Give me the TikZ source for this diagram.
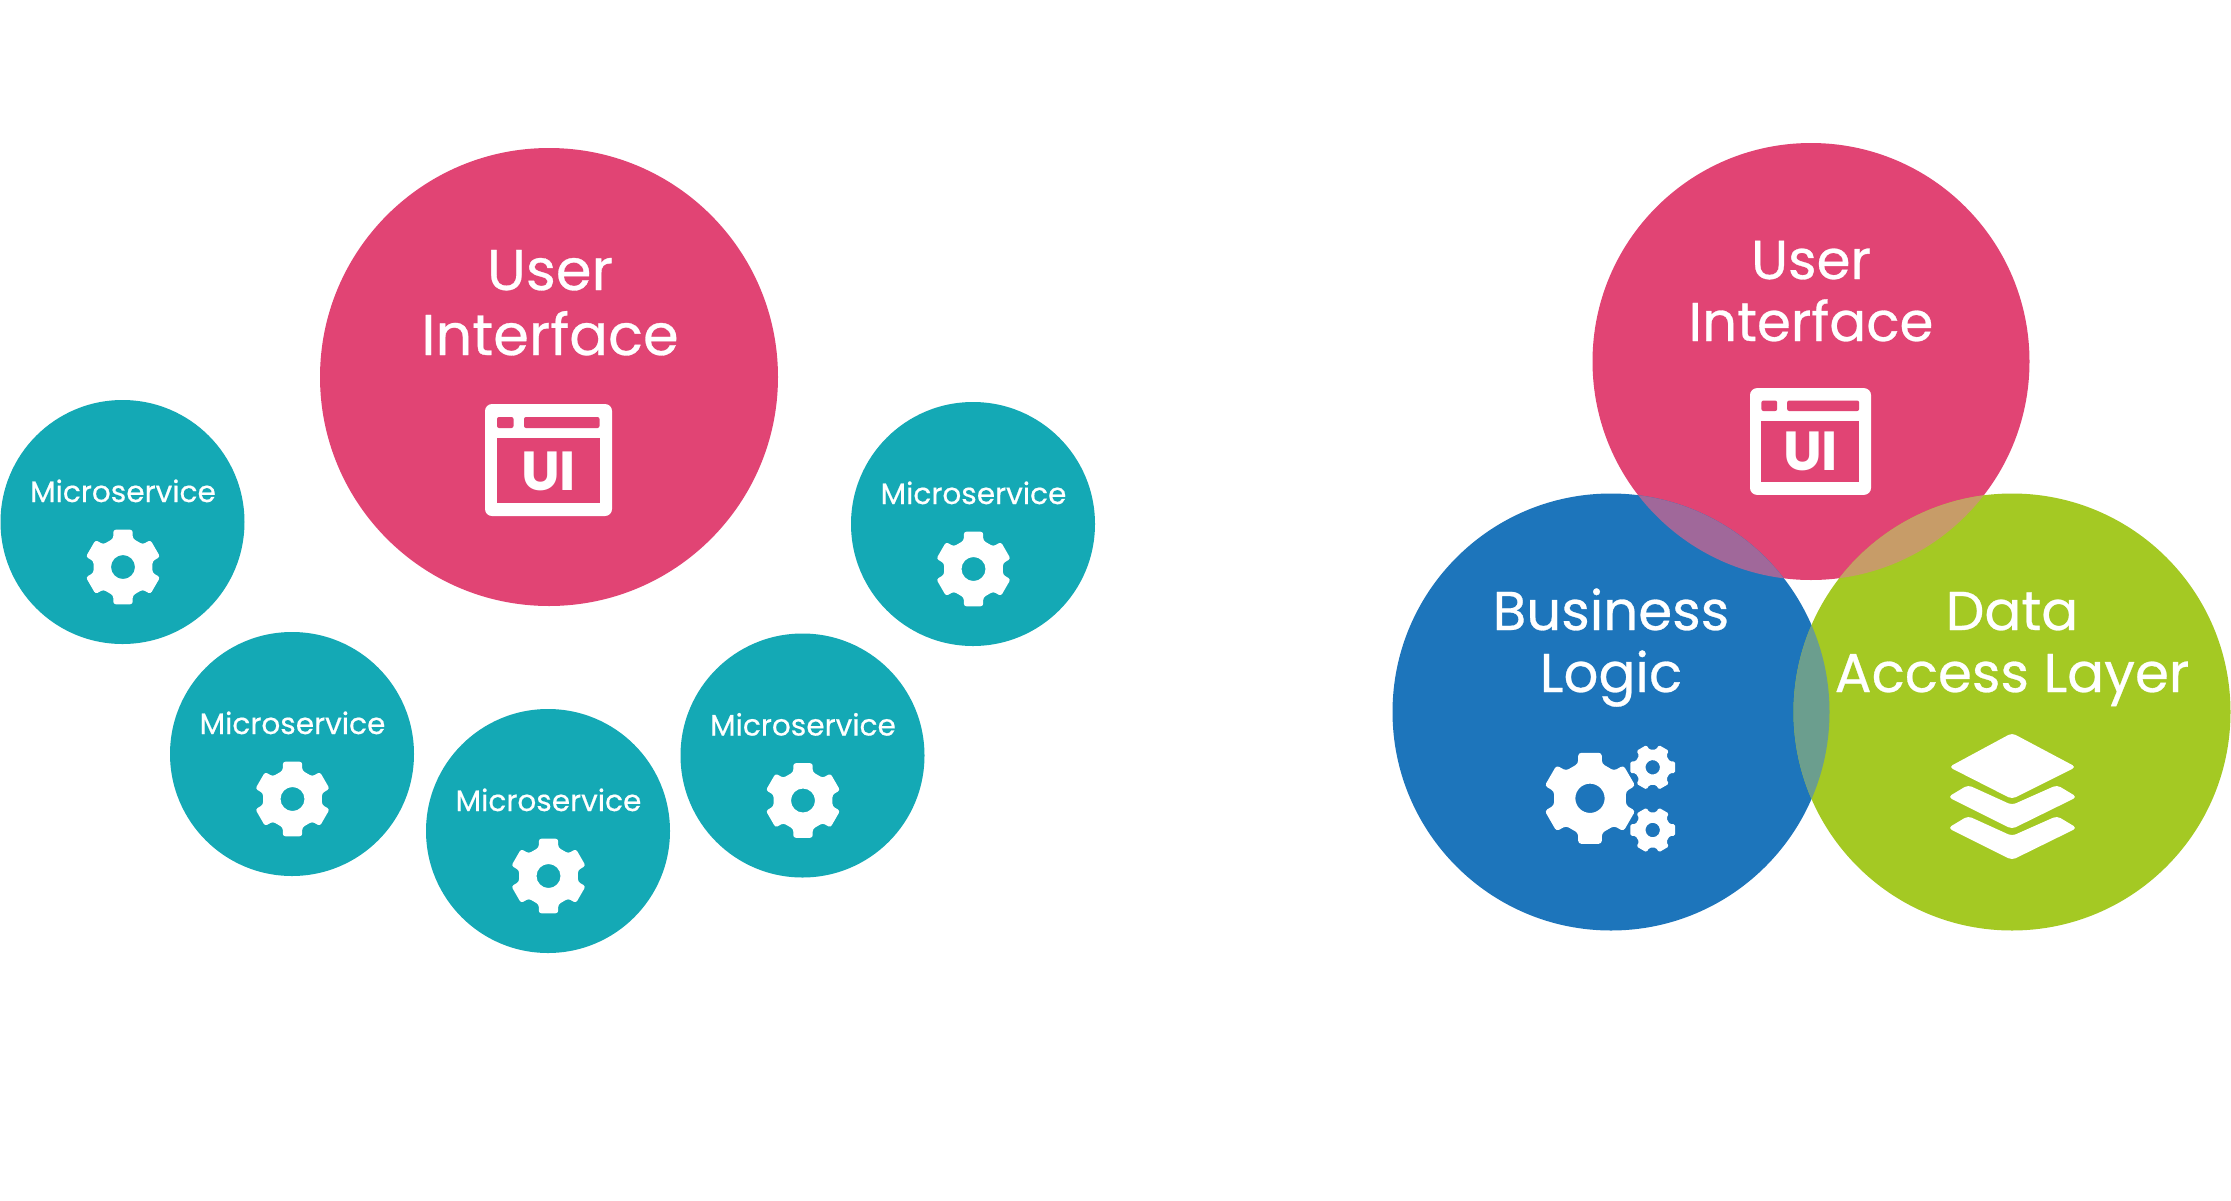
\documentclass[tikz,border=0pt]{standalone}
\usepackage{fontspec}
\setmainfont[FakeBold=0.5]{Poppins}
\newfontfamily\uifont{Poppins}
\definecolor{pinkc}{HTML}{E14474}
\definecolor{tealc}{HTML}{14A9B5}
\definecolor{bluec}{HTML}{1D75BB}
\definecolor{greenc}{HTML}{A4C923}
\definecolor{bluepink}{HTML}{A0689A}
\definecolor{pinkgreen}{HTML}{C79C68}
\definecolor{bluegreen}{HTML}{6B9E8E}
\tikzset{
  x=1pt,y=-1pt,
  disc/.style={circle,inner sep=0pt,outer sep=0pt,minimum size=#1},
  big/.style={text=white,anchor=base,inner sep=0pt,font=\fontsize{57.5}{60}\selectfont},
  bigr/.style={text=white,anchor=base,inner sep=0pt,font=\fontsize{54.7}{60}\selectfont},
  small/.style={text=white,anchor=base,inner sep=0pt,font=\fontsize{29.6}{32}\selectfont},
  pics/gearicon/.style={code={
    \fill[white,even odd rule,rounded corners=#1]
      (60:29.4)
      \foreach \t in {90,150,210,270,330,390}{
        -- (\t-19:30) -- (\t-14.5:38.5) -- (\t+14.5:38.5) -- (\t+19:30)
      } -- cycle
      (0,0) circle (12);
  }},
  pics/uiicon/.style={code={
    \fill[white,rounded corners=7pt] (-63.5,-56) rectangle (63.5,56);
    \fill[#1] (-51.5,-22) rectangle (51,43);
    \fill[#1,rounded corners=2pt] (-51.5,-43) rectangle (-35,-32);
    \fill[#1,rounded corners=2pt] (-24.5,-43) rectangle (51,-32);
    \node[text=white,anchor=base,inner sep=0pt,font=\uifont\fontsize{55}{55}\selectfont\bfseries] (-uilabel) at (0,30) {UI};
  }},
  stackshape/.style={white,rounded corners=4pt}
}
\newcommand{\microservice}[3]{%
  \node[disc=244pt,fill=tealc] (#1) at (#2,#3) {};
  \node[small] (#1text) at ([shift={(0.5,-20)}]#1.center) {Microservice};
  \path (#1.center) ++(0.5,45) pic {gearicon=2.5pt};
}
\begin{document}
\begin{tikzpicture}
\useasboundingbox (0,0) rectangle (2231,1200);
\fill[white] (0,0) rectangle (2231,1200);

% left group
\node[disc=458pt,fill=pinkc] (uileft) at (549,377) {};
\node[big] (uileft1) at (550,290) {User};
\node[big] (uileft2) at (550,355) {Interface};
\path (548.5,460) pic {uiicon=pinkc};
\microservice{msa}{122.5}{522}
\microservice{msb}{292}{754}
\microservice{msc}{548}{831}
\microservice{msd}{802.5}{755.5}
\microservice{mse}{973}{524}

% right group
\node[disc=437pt,fill=pinkc] (uiright) at (1811,361.5) {};
\node[disc=437pt,fill=bluec] (bl) at (1611,712) {};
\node[disc=437pt,fill=greenc] (da) at (2012,712) {};
\begin{scope}
  \clip (1811,361.5) circle (218.5);
  \fill[bluepink] (1611,712) circle (218.5);
  \fill[pinkgreen] (2012,712) circle (218.5);
\end{scope}
\begin{scope}
  \clip (1611,712) circle (218.5);
  \fill[bluegreen] (2012,712) circle (218.5);
\end{scope}

\node[bigr] (uir1) at (1811,279) {User};
\node[bigr] (uir2) at (1811,341) {Interface};
\path (1810.5,441.5) pic[scale=.953] {uiicon=pinkc};
\node[bigr] (bl1) at (1611,630) {Business};
\node[bigr] (bl2) at (1611,692) {Logic};
\node[bigr] (da1) at (2012,630) {Data};
\node[bigr] (da2) at (2012,692) {Access Layer};

% gears
\path (1590,798.3) pic[scale=1.22] {gearicon=3pt};
\path (1652.7,767.3) pic[scale=.6,rotate=30] {gearicon=1.5pt};
\path (1652.7,830) pic[scale=.6,rotate=30] {gearicon=1.5pt};

% layers
\fill[stackshape] (2012,733) -- (2076,767) -- (2012,799) -- (1949,767) -- cycle;
\fill[stackshape] (1968,785) -- (2012,805) -- (2057,785) -- (2077,797) -- (2012,829) -- (1948,797) -- cycle;
\fill[stackshape] (1968,816) -- (2012,836) -- (2057,816) -- (2077,828) -- (2012,860) -- (1948,828) -- cycle;
\end{tikzpicture}
\end{document}
